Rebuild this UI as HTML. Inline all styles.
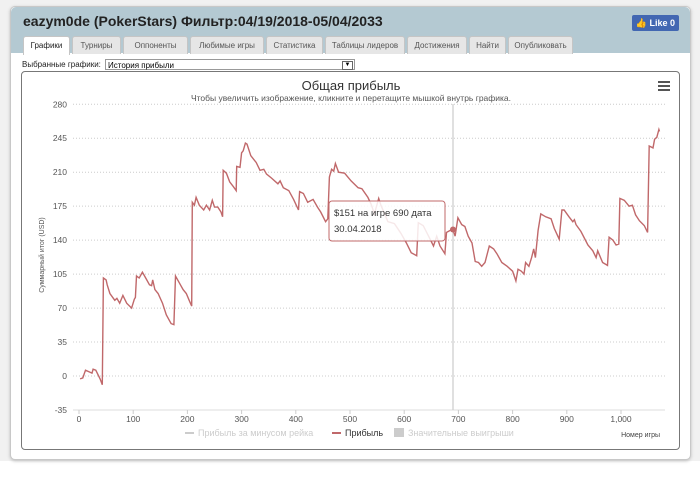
<!DOCTYPE html>
<html><head><meta charset="utf-8">
<style>
body{margin:0;width:700px;height:499px;background:#fff;font-family:"Liberation Sans","DejaVu Sans",sans-serif;position:relative;overflow:hidden}
#bg{position:absolute;left:0;top:0;width:700px;height:461px;background:#f1f1f1}
#dlg{position:absolute;left:10px;top:6px;width:679px;height:452px;background:#fff;border:1px solid #c8c8c8;border-radius:5px;box-shadow:0 1px 3px #bbb}
#hdr{position:absolute;left:0;top:0;width:679px;height:46px;background:#b4c9d2;border-radius:5px 5px 0 0}
#ttl{position:absolute;left:12px;top:6px;font-size:14px;font-weight:bold;color:#222}
.tab{position:absolute;top:29px;height:17px;font-size:8px;color:#555;background:#e6e6e6;border:1px solid #c5c5c5;border-bottom:none;border-radius:3px 3px 0 0;text-align:center;line-height:17px}
.tab.on{background:#fff;color:#222;height:18px}
#like{position:absolute;left:621px;top:8px;width:47px;height:16px;background:#4267b2;border-radius:2px;color:#fff;font-size:9px;font-weight:bold;line-height:16px;text-align:right;padding-right:4px;box-sizing:border-box}
#sel{position:absolute;left:11px;top:53px;font-size:8px;color:#222}
#selbox{position:absolute;left:94px;top:52px;width:250px;height:11px;border:1px solid #999;font-size:8px;line-height:11px;padding-left:2px;box-sizing:border-box}
#frame{position:absolute;left:10px;top:64px;width:657px;height:377px;border:1px solid #777;border-radius:4px}
</style></head><body>
<div id="bg"></div>
<div id="dlg">
<div id="hdr">
<div id="ttl">eazym0de (PokerStars) Фильтр:04/19/2018-05/04/2033</div>
<div id="like">👍 Like 0</div>
<div class="tab on" style="left:12px;width:45px">Графики</div>
<div class="tab" style="left:61px;width:47px">Турниры</div>
<div class="tab" style="left:112px;width:63px">Оппоненты</div>
<div class="tab" style="left:179px;width:72px">Любимые игры</div>
<div class="tab" style="left:255px;width:55px">Статистика</div>
<div class="tab" style="left:314px;width:78px">Таблицы лидеров</div>
<div class="tab" style="left:396px;width:58px">Достижения</div>
<div class="tab" style="left:458px;width:35px">Найти</div>
<div class="tab" style="left:497px;width:63px">Опубликовать</div>
</div>
<div id="sel">Выбранные графики:</div>
<div id="selbox">История прибыли<span style="position:absolute;right:1px;top:1px;width:9px;height:7px;border:1px solid #666;font-size:6px;line-height:7px;text-align:center">▼</span></div>
<div id="frame"></div>
</div>
<svg id="chart" width="700" height="499" style="position:absolute;left:0;top:0">
<text x="351" y="90" text-anchor="middle" font-size="13" fill="#333">Общая прибыль</text>
<text x="351" y="101" text-anchor="middle" font-size="8.5" fill="#555">Чтобы увеличить изображение, кликните и перетащите мышкой внутрь графика.</text>
<g><rect x="658" y="81" width="12" height="2" fill="#555"/><rect x="658" y="85" width="12" height="2" fill="#555"/><rect x="658" y="89" width="12" height="2" fill="#555"/></g>
<g id="grid"></g><g id="xt"></g>
<text transform="translate(44,255) rotate(-90)" text-anchor="middle" font-size="7" fill="#555">Суммарный итог (USD)</text>
<text x="660" y="437" text-anchor="end" font-size="7" fill="#444">Номер игры</text>
<line x1="453" y1="104" x2="453" y2="410" stroke="#ccc" stroke-width="1.2"/>
<path id="line" fill="none" stroke="#c0686a" stroke-width="1.4"/>
<circle id="dot" r="3" fill="#c0686a"/>
<g><rect x="329" y="201" width="116" height="40" rx="3" fill="rgba(255,255,255,0.85)" stroke="#c0686a"/>
<text x="334" y="216" font-size="9.5" fill="#333">$151 на игре 690 дата</text><text x="334" y="232" font-size="9.5" fill="#333">30.04.2018</text></g>
<g>
<line x1="185" y1="433" x2="194" y2="433" stroke="#ccc" stroke-width="2"/><text x="198" y="436" font-size="9" fill="#ccc">Прибыль за минусом рейка</text>
<line x1="332" y1="433" x2="341" y2="433" stroke="#c0686a" stroke-width="2"/><text x="345" y="436" font-size="9" fill="#333">Прибыль</text>
<rect x="394" y="428" width="10" height="9" fill="#ccc"/><text x="408" y="436" font-size="9" fill="#ccc">Значительные выигрыши</text></g>
</svg>
<script>
const yTicks=[280,245,210,175,140,105,70,35,0,-35];
const xTicks=[0,100,200,300,400,500,600,700,800,900,1000];
const xLabels=["0","100","200","300","400","500","600","700","800","900","1,000"];
const games=[2,7,12,20,24,26,31,39,43,45,50,52,57,66,70,75,81,88,97,102,104,106,111,117,123,130,134,136,140,146,154,161,170,175,178,185,192,198,204,208,209,213,216,222,230,235,241,246,250,256,262,265,266,272,278,285,290,291,297,300,303,307,310,317,327,334,341,346,355,367,371,377,387,396,405,407,414,422,432,440,446,455,459,462,466,470,473,479,490,502,515,522,533,539,545,553,557,570,582,594,604,613,623,626,635,645,654,660,666,675,678,688,690,694,699,706,712,718,725,731,737,743,749,757,765,771,780,790,800,806,810,816,821,824,830,835,839,842,847,852,861,871,877,886,891,895,904,911,914,917,926,939,948,954,957,966,972,975,978,985,991,996,998,1006,1015,1021,1027,1034,1043,1049,1052,1059,1062,1066,1070,1071];
const profit=[-3,-2,6,4,3,7,6,-3,-9,101,99,94,85,78,80,75,83,75,70,79,81,103,101,107,101,94,93,99,89,85,75,63,54,53,103,96,89,85,77,72,179,176,184,176,171,176,171,181,174,174,169,164,212,209,200,195,191,216,215,230,232,240,239,227,220,212,213,208,204,198,201,194,191,182,171,190,188,179,182,174,169,159,162,205,213,211,219,210,209,201,194,193,184,177,167,183,176,159,157,147,137,127,124,158,155,144,134,144,134,126,148,151,151,144,163,156,154,144,137,118,117,113,117,134,131,126,117,113,108,98,110,108,105,117,113,122,131,122,150,167,164,162,152,141,171,171,164,159,161,156,149,135,129,122,129,117,115,114,143,140,135,136,183,181,175,176,166,160,155,148,237,235,244,246,254,252];
const hover={game:690,value:151};
const X=g=>79+g*0.542, Y=v=>376-v*0.9705;
const ns="http://www.w3.org/2000/svg";
const grid=document.getElementById('grid'),xt=document.getElementById('xt');
yTicks.forEach(v=>{
 const l=document.createElementNS(ns,'line');
 
 
 l.setAttribute('x1',73);l.setAttribute('x2',665);l.setAttribute('y1',Y(v));l.setAttribute('y2',Y(v));
 l.setAttribute('stroke',v===-35?'#ddd':'#ccc');l.setAttribute('stroke-dasharray',v===-35?'':'1,2');
 grid.appendChild(l);
 const t=document.createElementNS(ns,'text');
 
 
 t.setAttribute('x',67);t.setAttribute('y',Y(v)+3);t.setAttribute('text-anchor','end');t.setAttribute('font-size','8.5');t.setAttribute('fill','#555');
 t.textContent=v;grid.appendChild(t);
});
xTicks.forEach((g,i)=>{
 const t=document.createElementNS(ns,'text');
 
 
 t.setAttribute('x',X(g));t.setAttribute('y',422);t.setAttribute('text-anchor','middle');t.setAttribute('font-size','8.5');t.setAttribute('fill','#555');
 t.textContent=xLabels[i];xt.appendChild(t);
 const k=document.createElementNS(ns,'line');
 
 
 k.setAttribute('x1',X(g));k.setAttribute('x2',X(g));k.setAttribute('y1',410);k.setAttribute('y2',414);k.setAttribute('stroke','#ccc');
 xt.appendChild(k);
});
document.getElementById('line').setAttribute('d',games.map((g,i)=>(i?'L':'M')+X(g).toFixed(1)+','+Y(profit[i]).toFixed(1)).join(''));
const d=document.getElementById('dot');d.setAttribute('cx',X(hover.game));d.setAttribute('cy',Y(hover.value));
</script>
</body></html>
